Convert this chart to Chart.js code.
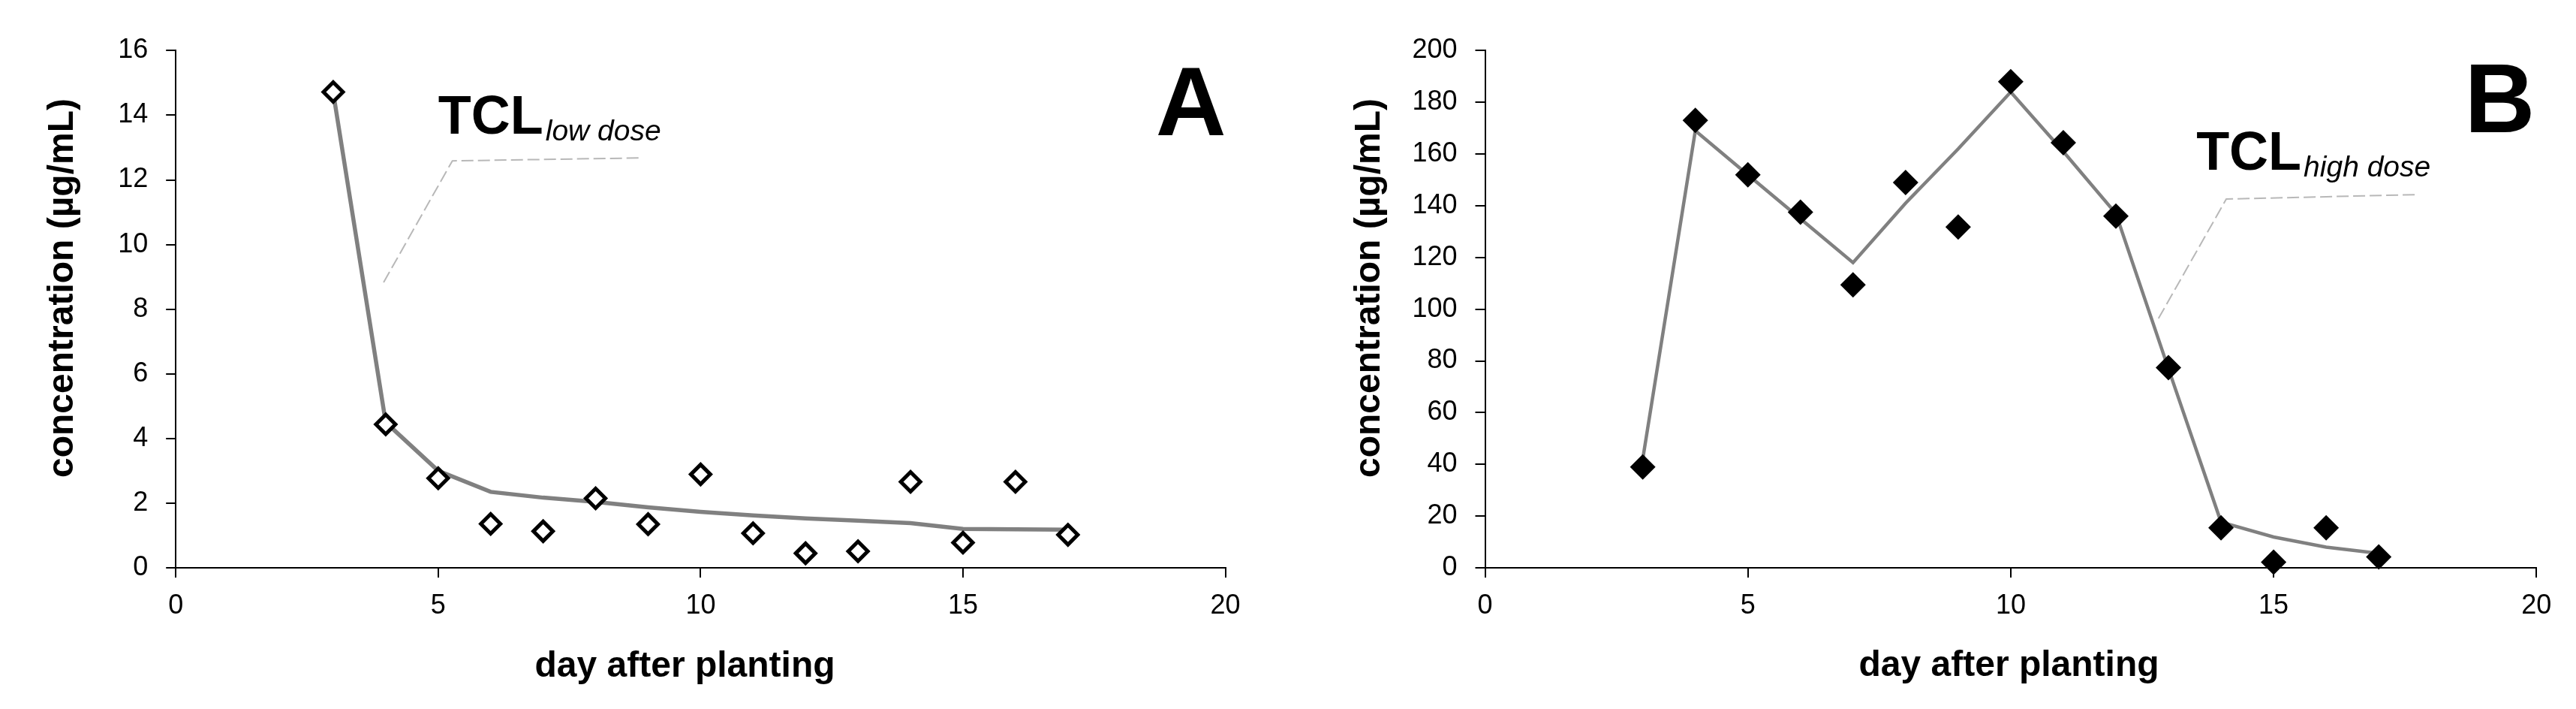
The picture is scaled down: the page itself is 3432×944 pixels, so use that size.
<!DOCTYPE html>
<html lang="en">
<head>
  <meta charset="UTF-8" />
  <title>TCL concentration after planting</title>
  <script src="https://cdn.jsdelivr.net/npm/chart.js@4"></script>
  <style>
    * { box-sizing: border-box; }
    body {
      margin: 0;
      background: #fff;
      width: 3432px;
      height: 944px;
      overflow: hidden;
      position: relative;
    }
    canvas { position: absolute; top: 0; }
    #chartA { left: 0; }
    #chartB { left: 1716px; }
  </style>
</head>
<body>
  <canvas id="chartA" width="1716" height="944"></canvas>
  <canvas id="chartB" width="1716" height="944"></canvas>

  <script>
    // values
    const days = [3, 4, 5, 6, 7, 8, 9, 10, 11, 12, 13, 14, 15, 16, 17];
    const lowDoseMeasured = [14.72, 4.44, 2.77, 1.36, 1.13, 2.15, 1.35, 2.89, 1.07, 0.45, 0.51, 2.66, 0.78, 2.66, 1.02];
    const lowDoseTrend = [14.7, 4.5, 3.0, 2.35, 2.17, 2.04, 1.87, 1.73, 1.62, 1.53, 1.46, 1.38, 1.2, 1.19, 1.18];
    const highDoseMeasured = [39, 173, 152, 137.5, 109.4, 149, 131.8, 188, 164.4, 136, 77.4, 15.5, 2.2, 15.5, 4.2];
    const highDoseTrend = [42, 169, 152, 135, 118, 141, 162, 184, 161, 137, 77, 17.7, 11.9, 8.0, 5.6];

    const xTicks = [0, 5, 10, 15, 20];
    const yTicksLow = [0, 2, 4, 6, 8, 10, 12, 14, 16];
    const yTicksHigh = [0, 20, 40, 60, 80, 100, 120, 140, 160, 180, 200];

    // dashed leader lines from the TCL labels to the curves (data coords)
    const leaderLowX = [3.96, 5.27, 8.88];
    const leaderLowY = [8.83, 12.59, 12.68];
    const leaderHighX = [12.81, 14.1, 17.7];
    const leaderHighY = [96.4, 142.6, 144.3];

    const xTitle = 'day after planting';
    const yTitle = 'concentration (µg/mL)';

    const FONT = "'Liberation Sans', Arial, sans-serif";
    Chart.defaults.font.family = FONT;
    Chart.defaults.color = '#000';

    const pts = (xs, ys) => xs.map((x, i) => ({ x: x, y: ys[i] }));

    // axis titles, panel letter and TCL label
    const panelText = {
      id: 'panelText',
      afterDraw(chart, args, o) {
        const { ctx, scales: { x, y } } = chart;
        ctx.save();
        ctx.fillStyle = '#000';
        ctx.textBaseline = 'alphabetic';

        ctx.save();
        ctx.translate(o.yTitleX, o.yTitleY);
        ctx.rotate(-Math.PI / 2);
        ctx.font = 'bold 48px ' + FONT;
        ctx.textAlign = 'center';
        ctx.fillText(yTitle, 0, 0);
        ctx.restore();

        ctx.font = 'bold 48px ' + FONT;
        ctx.textAlign = 'center';
        ctx.fillText(xTitle, o.xTitleX, o.xTitleY);

        ctx.font = 'bold 130px ' + FONT;
        ctx.textAlign = 'right';
        ctx.fillText(o.letter, x.getPixelForValue(20) + o.letterDx, o.letterY);

        const tx = x.getPixelForValue(o.tclAt[0]);
        const ty = y.getPixelForValue(o.tclAt[1]);
        ctx.textAlign = 'left';
        ctx.font = 'bold 72px ' + FONT;
        ctx.fillText('TCL', tx, ty);
        const w = ctx.measureText('TCL').width;
        ctx.font = 'italic 39px ' + FONT;
        ctx.fillText(o.sub, tx + w + 3, ty + 9);
        ctx.restore();
      }
    };

    function makeChart(id, cfg) {
      return new Chart(document.getElementById(id), {
        type: 'scatter',
        data: {
          datasets: [
            {
              data: pts(days, cfg.measured),
              pointStyle: 'rectRot',
              pointRadius: cfg.pointRadius,
              pointBorderWidth: cfg.pointBorder,
              pointBackgroundColor: cfg.pointFill,
              pointBorderColor: '#000',
              clip: false
            },
            {
              data: pts(days, cfg.trend),
              showLine: true,
              borderColor: '#808080',
              borderWidth: cfg.lineWidth,
              pointRadius: 0,
              clip: false
            },
            {
              data: pts(cfg.leaderX, cfg.leaderY),
              showLine: true,
              borderColor: '#b8b8b8',
              borderWidth: 2,
              borderDash: [16, 6],
              pointRadius: 0
            }
          ]
        },
        options: {
          responsive: false,
          animation: false,
          layout: { padding: { left: 0, top: 67.4, right: cfg.padRight, bottom: 0 } },
          plugins: {
            legend: { display: false },
            tooltip: { enabled: false },
            panelText: cfg.text
          },
          scales: {
            x: {
              type: 'linear',
              min: 0,
              max: 20,
              afterBuildTicks: s => { s.ticks = xTicks.map(v => ({ value: v })); },
              ticks: { font: { size: 36 }, color: '#000', padding: 16 },
              grid: { drawOnChartArea: false, drawTicks: true, tickLength: 13, color: '#000', lineWidth: 2 },
              border: { color: '#000', width: 2 },
              afterFit: s => { s.height = 944 - 756; }
            },
            y: {
              type: 'linear',
              min: 0,
              max: cfg.yTicks[cfg.yTicks.length - 1],
              afterBuildTicks: s => { s.ticks = cfg.yTicks.map(v => ({ value: v })); },
              ticks: { font: { size: 36 }, color: '#000', padding: 24 },
              grid: { drawOnChartArea: false, drawTicks: true, tickLength: 13, color: '#000', lineWidth: 2 },
              border: { color: '#000', width: 2 },
              afterFit: s => { s.width = cfg.left; }
            }
          }
        },
        plugins: [panelText]
      });
    }

    makeChart('chartA', {
      measured: lowDoseMeasured,
      trend: lowDoseTrend,
      leaderX: leaderLowX,
      leaderY: leaderLowY,
      yTicks: yTicksLow,
      pointRadius: 13,
      pointBorder: 5,
      pointFill: '#fff',
      lineWidth: 5.5,
      left: 234.2,
      padRight: 1716 - 1632.6,
      text: {
        yTitleX: 97, yTitleY: 383.5,
        xTitleX: 912.5, xTitleY: 901,
        letter: 'A', letterDx: 1, letterY: 180,
        tclAt: [5.0, 13.43], sub: 'low dose'
      }
    });

    makeChart('chartB', {
      measured: highDoseMeasured,
      trend: highDoseTrend,
      leaderX: leaderHighX,
      leaderY: leaderHighY,
      yTicks: yTicksHigh,
      pointRadius: 17,
      pointBorder: 0,
      pointFill: '#000',
      lineWidth: 4.5,
      left: 1978.5 - 1716,
      padRight: 1716 - (3379.3 - 1716),
      text: {
        yTitleX: 122, yTitleY: 383.5,
        xTitleX: 960.5, xTitleY: 900,
        letter: 'B', letterDx: -2, letterY: 176,
        tclAt: [13.53, 153.9], sub: 'high dose'
      }
    });
  </script>
</body>
</html>
